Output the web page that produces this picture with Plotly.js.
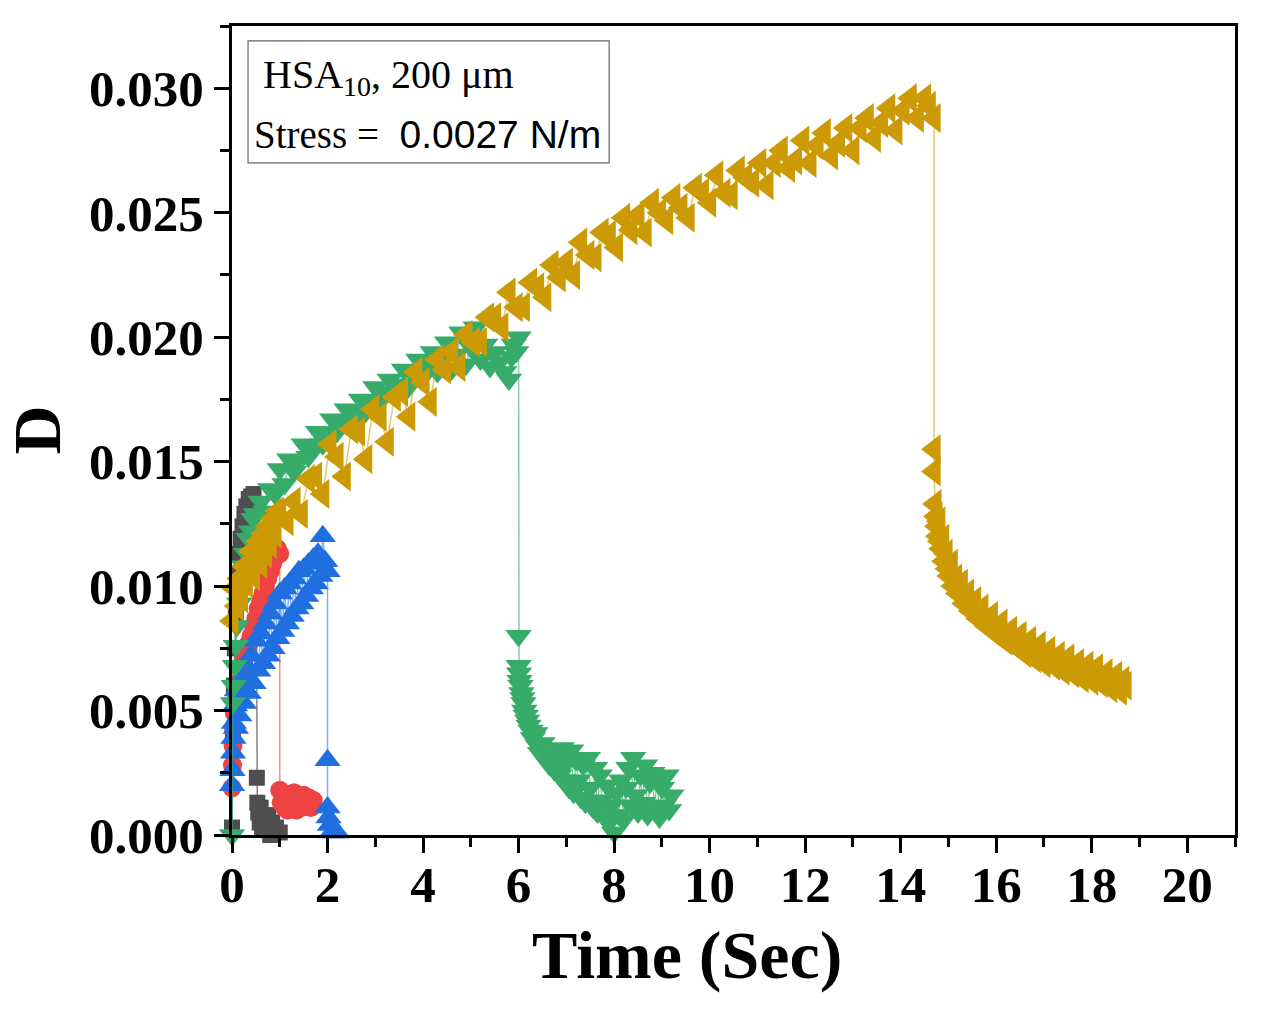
<!DOCTYPE html>
<html>
<head>
<meta charset="utf-8">
<script src="https://cdn.plot.ly/plotly-3.0.1.min.js"></script>
<style>
  html, body { margin: 0; padding: 0; background: #fff; }
  #grafico { width: 1278px; height: 1022px; }
</style>
</head>
<body>
<div id="grafico"></div>
<script>
// Dados (Time em s, D adimensional)
const pretoX = [0, 0.02, 0.04, 0.06, 0.08, 0.1, 0.12, 0.15, 0.18, 0.22, 0.26, 0.3, 0.35, 0.4, 0.45, 0.5,
  0.52, 0.53, 0.55, 0.58, 0.6, 0.63, 0.66, 0.7, 0.73, 0.76, 0.8, 0.84, 0.88, 0.92, 0.96, 1.0];
const pretoY = [0.0003, 0.0040, 0.0060, 0.0075, 0.0088, 0.0097, 0.0105, 0.0113, 0.0119, 0.0124, 0.0129, 0.0132, 0.0135, 0.0136, 0.0137, 0.0133,
  0.0023, 0.0013, 0.0009, 0.0005, 0.0011, 0.0002, 0.0007, -0.0001, 0.0004, 0.0008, 0.0000, 0.0005, -0.0002, 0.0003, -0.0002, 0.0001];

const vermelhoX = [0, 0.01, 0.02, 0.03, 0.05, 0.08, 0.12, 0.16, 0.2, 0.25, 0.3, 0.35, 0.4, 0.45, 0.5, 0.55, 0.6, 0.65, 0.7, 0.75, 0.8, 0.85, 0.9, 0.95, 1.0,
  1.0, 1.03, 1.06, 1.1, 1.13, 1.16, 1.2, 1.25, 1.3, 1.35, 1.4, 1.45, 1.5, 1.55, 1.6, 1.65, 1.7];
const vermelhoY = [0.0019, 0.0028, 0.0036, 0.0043, 0.0049, 0.0054, 0.0058, 0.0062, 0.0066, 0.0070, 0.0073, 0.0077, 0.0080, 0.0084, 0.0087, 0.0091, 0.0094, 0.0097, 0.0100, 0.0103, 0.0106, 0.0109, 0.0112, 0.0115, 0.0113,
  0.0018, 0.0013, 0.0017, 0.0011, 0.0015, 0.0010, 0.0016, 0.0012, 0.0017, 0.0010, 0.0015, 0.0011, 0.0016, 0.0012, 0.0015, 0.0011, 0.0014];

const azulX = [0, 0.01, 0.02, 0.03, 0.04, 0.06, 0.08, 0.1, 0.15, 0.2, 0.25, 0.3, 0.35, 0.4, 0.45,
  0.5, 0.55, 0.6, 0.65, 0.7, 0.75, 0.8, 0.85, 0.9, 0.95, 1.0, 1.05, 1.1, 1.15, 1.2, 1.25, 1.3, 1.35, 1.4, 1.45,
  1.5, 1.55, 1.6, 1.65, 1.7, 1.75, 1.8, 1.85, 1.9, 1.95, 2.0,
  2.0, 2.0, 2.02, 2.05, 2.08, 2.12, 2.2, 2.3, 2.55];
const azulY = [0.0020, 0.0026, 0.0033, 0.0039, 0.0045, 0.0052, 0.0043, 0.0058, 0.0048, 0.0063, 0.0053, 0.0068, 0.0057, 0.0072, 0.0061,
  0.0078, 0.0066, 0.0081, 0.0069, 0.0085, 0.0072, 0.0089, 0.0075, 0.0093, 0.0079, 0.0097, 0.0082, 0.0099, 0.0085, 0.0101, 0.0088, 0.0103, 0.0091, 0.0106, 0.0093,
  0.0107, 0.0096, 0.0109, 0.0099, 0.0111, 0.0101, 0.0113, 0.0104, 0.0120, 0.0110, 0.0106,
  0.0030, 0.0011, 0.0007, 0.0004, 0.0001, -0.0002, 0.0001, -0.0003, -0.0004];

const verdeX = [0, 0.02, 0.04, 0.06, 0.08, 0.1, 0.15, 0.2, 0.25, 0.3, 0.35, 0.4, 0.45, 0.5,
  0.6, 0.7, 0.8, 0.9, 1.0, 1.1, 1.2, 1.3, 1.4, 1.5, 1.6, 1.7, 1.8, 1.9, 2.0, 2.1, 2.2, 2.3, 2.4, 2.5,
  2.6, 2.7, 2.8, 2.9, 3.0, 3.1, 3.2, 3.3, 3.4, 3.5, 3.6, 3.7, 3.8, 3.9, 4.0, 4.1, 4.2, 4.3, 4.4, 4.5,
  4.6, 4.7, 4.8, 4.9, 5.0, 5.1, 5.2, 5.3, 5.4, 5.5, 5.6, 5.7, 5.8, 5.85, 5.9, 5.95, 6.0,
  6.0, 6.0, 6.01, 6.02, 6.04, 6.06, 6.08, 6.1, 6.12, 6.15, 6.18, 6.21, 6.25, 6.3, 6.35, 6.4, 6.45, 6.5, 6.55, 6.6,
  6.65, 6.7, 6.75, 6.8, 6.85, 6.9, 6.95, 7.0, 7.05, 7.1, 7.15, 7.2, 7.25, 7.3, 7.35, 7.4, 7.45, 7.5, 7.55, 7.6,
  7.65, 7.7, 7.75, 7.8, 7.85, 7.9, 7.95, 8.0, 8.05, 8.1, 8.15, 8.2, 8.25, 8.3, 8.35, 8.4, 8.45, 8.5, 8.55, 8.6,
  8.65, 8.7, 8.75, 8.8, 8.85, 8.9, 8.95, 9.0, 9.05, 9.1, 9.15, 9.2];
const verdeY = [0.0000, 0.0053, 0.0060, 0.0068, 0.0076, 0.0084, 0.0093, 0.0101, 0.0108, 0.0113, 0.0119, 0.0122, 0.0127, 0.0129,
  0.0134, 0.0130, 0.0139, 0.0137, 0.0147, 0.0141, 0.0151, 0.0146, 0.0150, 0.0157, 0.0152, 0.0156, 0.0162, 0.0157, 0.0161, 0.0167, 0.0162, 0.0165, 0.0171, 0.0166,
  0.0169, 0.0175, 0.0170, 0.0173, 0.0180, 0.0174, 0.0177, 0.0183, 0.0178, 0.0181, 0.0187, 0.0180, 0.0185, 0.0191, 0.0184, 0.0188, 0.0194, 0.0186, 0.0191, 0.0198,
  0.0187, 0.0193, 0.0202, 0.0189, 0.0196, 0.0204, 0.0191, 0.0197, 0.0188, 0.0194, 0.0190, 0.0186, 0.0183, 0.0192, 0.0197, 0.0194, 0.0200,
  0.0080, 0.0068, 0.0065, 0.0062, 0.0060, 0.0057, 0.0055, 0.0053, 0.0050, 0.0048, 0.0046, 0.0044, 0.0042, 0.0039, 0.0041, 0.0036, 0.0033, 0.0037, 0.0031, 0.0034,
  0.0028, 0.0033, 0.0026, 0.0031, 0.0024, 0.0035, 0.0022, 0.0029, 0.0019, 0.0034, 0.0017, 0.0030, 0.0022, 0.0015, 0.0028, 0.0013, 0.0031, 0.0019, 0.0011, 0.0027,
  0.0009, 0.0024, 0.0014, 0.0007, 0.0020, 0.0005, 0.0012, 0.0001, 0.0017, 0.0008, 0.0022, 0.0006, 0.0019, 0.0027, 0.0012, 0.0031, 0.0016, 0.0009, 0.0024, 0.0013,
  0.0028, 0.0008, 0.0021, 0.0025, 0.0011, 0.0023, 0.0007, 0.0019, 0.0012, 0.0024, 0.0010, 0.0016];

const douradoX = [0, 0.05, 0.1, 0.15, 0.2, 0.25, 0.3, 0.35, 0.4, 0.45, 0.5, 0.55, 0.6, 0.65, 0.7, 0.75, 0.8, 0.85, 0.9, 0.95,
  1.0, 1.15, 1.3, 1.45, 1.6, 1.75, 1.9, 2.05, 2.2, 2.35, 2.5, 2.65, 2.8, 2.95, 3.1, 3.25, 3.4, 3.55, 3.7, 3.85,
  4.0, 4.15, 4.3, 4.45, 4.6, 4.75, 4.9, 5.05, 5.2, 5.35, 5.5, 5.65, 5.8, 5.95, 6.1, 6.25, 6.4, 6.55, 6.7, 6.85,
  7.0, 7.15, 7.3, 7.45, 7.6, 7.75, 7.9, 8.05, 8.2, 8.35, 8.5, 8.65, 8.8, 8.95, 9.1, 9.25, 9.4, 9.55, 9.7, 9.85,
  10.0, 10.15, 10.3, 10.45, 10.6, 10.75, 10.9, 11.05, 11.2, 11.35, 11.5, 11.65, 11.8, 11.95, 12.1, 12.25, 12.4, 12.55, 12.7, 12.85,
  13.0, 13.15, 13.3, 13.45, 13.6, 13.75, 13.9, 14.05, 14.2, 14.35, 14.5, 14.6, 14.7,
  14.7, 14.7, 14.72, 14.74, 14.76, 14.78, 14.8, 14.82, 14.85, 14.88, 14.91, 14.95, 14.98, 15.02, 15.06, 15.1, 15.15, 15.2, 15.27, 15.33,
  15.4, 15.47, 15.55, 15.62, 15.7, 15.8, 15.9, 16.0, 16.1, 16.2, 16.3, 16.4, 16.5, 16.6, 16.7, 16.8, 16.9, 17.0, 17.1, 17.2,
  17.3, 17.4, 17.5, 17.6, 17.7, 17.8, 17.9, 18.0, 18.1, 18.2, 18.3, 18.4, 18.5, 18.6, 18.65, 18.7];
const douradoY = [0.0086, 0.0099, 0.0092, 0.0103, 0.0095, 0.0108, 0.0101, 0.0106, 0.0114, 0.0104, 0.0112, 0.0118, 0.0109, 0.0121, 0.0113, 0.0124, 0.0117, 0.0127, 0.0121, 0.0130,
  0.0129, 0.0126, 0.0134, 0.0129, 0.0143, 0.0144, 0.0137, 0.0157, 0.0152, 0.0144, 0.0163, 0.0162, 0.0151, 0.0171, 0.0168, 0.0158, 0.0176, 0.0178, 0.0168, 0.0186,
  0.0182, 0.0174, 0.0191, 0.0187, 0.0194, 0.0188, 0.0201, 0.0198, 0.0198, 0.0208, 0.0208, 0.0204, 0.0218, 0.0212, 0.0212, 0.0222, 0.0220, 0.0216, 0.0229, 0.0224,
  0.0230, 0.0225, 0.0238, 0.0233, 0.0232, 0.0242, 0.0241, 0.0236, 0.0248, 0.0243, 0.0249, 0.0242, 0.0254, 0.0250, 0.0247, 0.0256, 0.0252, 0.0248, 0.0260, 0.0258,
  0.0254, 0.0265, 0.0258, 0.0257, 0.0267, 0.0264, 0.0262, 0.0270, 0.0261, 0.0270, 0.0275, 0.0268, 0.0271, 0.0279, 0.0270, 0.0277, 0.0282, 0.0273, 0.0278, 0.0284,
  0.0275, 0.0284, 0.0288, 0.0280, 0.0286, 0.0292, 0.0283, 0.0291, 0.0296, 0.0288, 0.0296, 0.0293, 0.0288,
  0.0155, 0.0146, 0.0133, 0.0128, 0.0124, 0.0120, 0.0126, 0.0118, 0.0115, 0.0119, 0.0110, 0.0113, 0.0107, 0.0104, 0.0109, 0.0100, 0.0103, 0.0097, 0.0101, 0.0093,
  0.0097, 0.0090, 0.0094, 0.0087, 0.0091, 0.0084, 0.0088, 0.0081, 0.0085, 0.0078, 0.0082, 0.0076, 0.0080, 0.0073, 0.0078, 0.0071, 0.0076, 0.0069, 0.0074, 0.0068,
  0.0072, 0.0066, 0.0071, 0.0065, 0.0069, 0.0063, 0.0068, 0.0062, 0.0067, 0.0061, 0.0065, 0.0059, 0.0064, 0.0058, 0.0062, 0.0060];

const serif = 'Liberation Serif, Times New Roman, serif';

function serie(x, y, cor, corLinha, simbolo, tamanho) {
  return {
    x: x, y: y,
    type: 'scatter',
    mode: 'lines+markers',
    cliponaxis: false,
    line: { color: corLinha, width: 1.5 },
    marker: { symbol: simbolo, size: tamanho, color: cor, line: { width: 0 } },
    hoverinfo: 'x+y'
  };
}

const traces = [
  serie(pretoX, pretoY, '#4f4f4f', 'rgba(79,79,79,0.7)', 'square', 16),
  serie(vermelhoX, vermelhoY, '#ef4242', 'rgba(239,66,66,0.6)', 'circle', 19),
  serie(azulX, azulY, '#1f6fe0', 'rgba(31,111,224,0.55)', 'triangle-up', 23),
  serie(verdeX, verdeY, '#36ab6a', 'rgba(54,171,106,0.6)', 'triangle-down', 23),
  serie(douradoX, douradoY, '#cc9a04', 'rgba(204,154,4,0.55)', 'triangle-left', 26)
];

const eixoBase = {
  showline: true,
  linecolor: '#000',
  linewidth: 3,
  mirror: true,
  showgrid: false,
  zeroline: false,
  ticks: 'outside',
  ticklen: 15,
  tickwidth: 3,
  tickcolor: '#000',
  tickfont: { family: serif, size: 51, color: '#000', weight: 'bold' }
};

const layout = {
  width: 1278,
  height: 1022,
  showlegend: false,
  paper_bgcolor: '#fff',
  plot_bgcolor: '#fff',
  margin: { l: 232, r: 43, t: 26, b: 187 },
  xaxis: Object.assign({}, eixoBase, {
    range: [0, 21],
    dtick: 2,
    tick0: 0,
    ticklabelstandoff: -12,
    minor: { dtick: 1, ticks: 'outside', ticklen: 9, tickwidth: 3, tickcolor: '#000' }
  }),
  yaxis: Object.assign({}, eixoBase, {
    range: [0, 0.0325],
    dtick: 0.005,
    tick0: 0,
    tickformat: '.3f',
    ticklabelstandoff: 0,
    minor: { dtick: 0.0025, ticks: 'outside', ticklen: 9, tickwidth: 3, tickcolor: '#000' }
  }),
  shapes: [{
    type: 'rect',
    xref: 'paper', yref: 'paper',
    x0: 0.016, x1: 0.376, y0: 0.8307, y1: 0.9815,
    line: { color: '#666', width: 1.2 },
    fillcolor: 'rgba(255,255,255,0)'
  }],
  annotations: [
    {
      xref: 'paper', yref: 'paper',
      x: 0.029, y: 0.937,
      xanchor: 'left', yanchor: 'middle',
      showarrow: false,
      text: 'HSA<sub>10</sub>, 200 μm',
      font: { family: serif, size: 40, color: '#000' }
    },
    {
      xref: 'paper', yref: 'paper',
      x: 0.020, y: 0.866,
      xanchor: 'left', yanchor: 'middle',
      showarrow: false,
      text: 'Stress = <span style="font-family:Liberation Sans, Arial, sans-serif"> 0.0027 N/m</span>',
      font: { family: serif, size: 39, color: '#000' }
    },
    {
      xref: 'paper', yref: 'paper',
      x: 0.4537, y: -0.148,
      xanchor: 'center', yanchor: 'middle',
      showarrow: false,
      text: '<b>Time (Sec)</b>',
      font: { family: serif, size: 68, color: '#000' }
    },
    {
      xref: 'paper', yref: 'paper',
      x: -0.1954, y: 0.5,
      xanchor: 'center', yanchor: 'middle',
      textangle: -90,
      showarrow: false,
      text: '<b>D</b>',
      font: { family: serif, size: 68, color: '#000' }
    }
  ]
};

Plotly.newPlot('grafico', traces, layout, { displayModeBar: false, responsive: false });
</script>
</body>
</html>
